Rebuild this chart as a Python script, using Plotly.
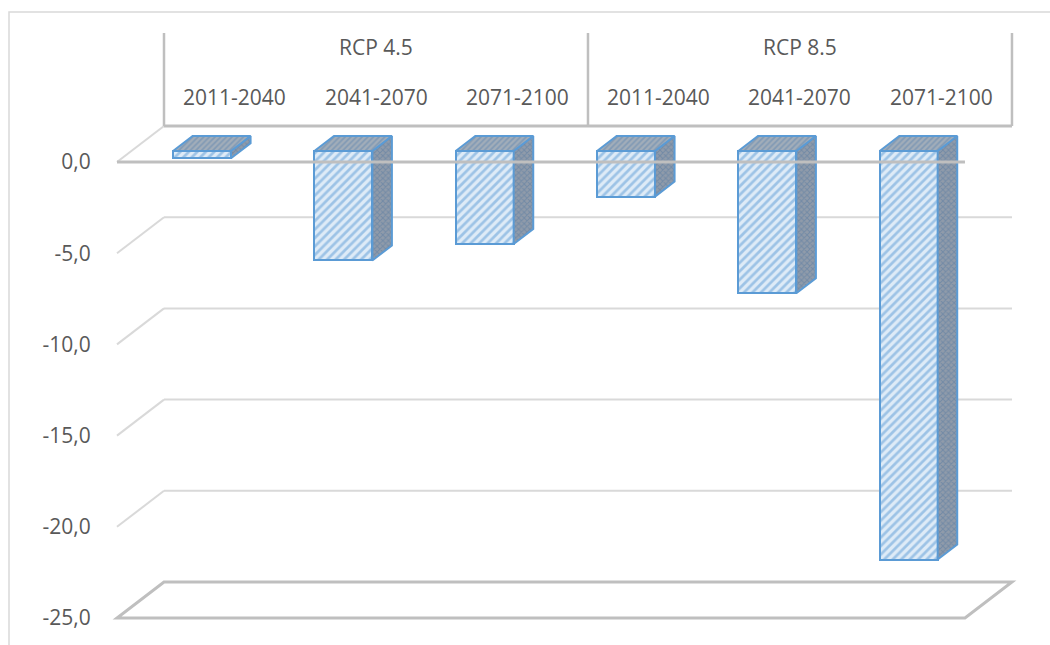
import plotly.graph_objects as go

# ---- data ----
scenarios = ["RCP 4.5", "RCP 8.5"]
periods = ["2011-2040", "2041-2070", "2071-2100"]
rcp45 = [-0.4, -6.0, -5.1]
rcp85 = [-2.5, -7.8, -22.4]
ytick_vals = [0, -5, -10, -15, -20, -25]
ytick_text = ["0,0", "-5,0", "-10,0", "-15,0", "-20,0", "-25,0"]

values = rcp45 + rcp85
n = len(values)

# ---- geometry (oblique 3D look) ----
PX_X = 141.33   # px per category slot
PX_Y = 18.24    # px per value unit
L, R, T, B = 100, 20, 20, 15
W, H = 1050, 645
PW, PH = W - L - R, H - T - B
X0PX, Y0PX = 117, 162          # pixel of (u=0, v=0) in front plane
DXu = 47 / PX_X                 # full depth offset in x units
DYv = 36 / PX_Y                 # full depth offset in y units
D0, D1 = 11 / 36, 26 / 36       # bar depth span
BAR_W = 0.41
ymin = min(ytick_vals)

xr = [-(X0PX - L) / PX_X, (PW - (X0PX - L)) / PX_X]
yr = [-(T + PH - Y0PX) / PX_Y, (Y0PX - T) / PX_Y]


def P(u, v, d):
    return (u + d * DXu, v + d * DYv)


def vpx(py):
    return (Y0PX - py) / PX_Y


BLUE = "#5b9bd5"
GRID = "#d9d9d9"
AXC = "#bfbfbf"
TXT = "#595959"
FONT = "Open Sans"
FS = 21

fig = go.Figure()

# front faces
centers = [i + 0.5 for i in range(n)]
fig.add_trace(go.Bar(
    x=[c + D0 * DXu for c in centers], y=values, base=D0 * DYv, width=BAR_W,
    marker=dict(color="#ddeaf7", line=dict(color=BLUE, width=2),
                pattern=dict(shape="/", fgcolor="#5b9bd5", bgcolor="#deebf7",
                             size=6, solidity=0.45)),
    hoverinfo="skip", showlegend=False))

# side and top faces
sx, sy, tx, ty = [], [], [], []
for c, v in zip(centers, values):
    xl, xrr = c - BAR_W / 2, c + BAR_W / 2
    for pt in [P(xrr, 0, D0), P(xrr, 0, D1), P(xrr, v, D1), P(xrr, v, D0), P(xrr, 0, D0)]:
        sx.append(pt[0]); sy.append(pt[1])
    sx.append(None); sy.append(None)
    for pt in [P(xl, 0, D0), P(xrr, 0, D0), P(xrr, 0, D1), P(xl, 0, D1), P(xl, 0, D0)]:
        tx.append(pt[0]); ty.append(pt[1])
    tx.append(None); ty.append(None)

fig.add_trace(go.Scatter(
    x=sx, y=sy, mode="lines", fill="toself", fillcolor="#8f9cab",
    fillpattern=dict(shape="x", fgcolor="#557aa2", bgcolor="#909baa", size=4, solidity=0.45),
    line=dict(color=BLUE, width=2), hoverinfo="skip", showlegend=False))
fig.add_trace(go.Scatter(
    x=tx, y=ty, mode="lines", fill="toself", fillcolor="#9aa7b5",
    fillpattern=dict(shape="/", fgcolor="#5f86b0", bgcolor="#a2adb9", size=4, solidity=0.45),
    line=dict(color=BLUE, width=2), hoverinfo="skip", showlegend=False))

shapes = []
# gridlines: side wall diagonal + back wall horizontal
for v in ytick_vals[:-1]:
    a, b = P(0, v, 0), P(0, v, 1)
    shapes.append(dict(type="line", x0=a[0], y0=a[1], x1=b[0], y1=b[1],
                       line=dict(color=GRID, width=2), layer="below"))
    if v != 0:
        c2 = P(n, v, 1)
        shapes.append(dict(type="line", x0=b[0], y0=b[1], x1=c2[0], y1=c2[1],
                           line=dict(color=GRID, width=2), layer="below"))
# floor at bottom
fl = [P(0, ymin, 0), P(n, ymin, 0), P(n, ymin, 1), P(0, ymin, 1)]
path = "M " + " L ".join(f"{p[0]},{p[1]}" for p in fl) + " Z"
shapes.append(dict(type="path", path=path, line=dict(color=AXC, width=3), layer="below"))

# header box (category axis at back wall top)
top_v = vpx(33)
hb0, hb1 = P(0, 0, 1), P(n, 0, 1)
shapes.append(dict(type="line", x0=hb0[0], y0=hb0[1], x1=hb1[0], y1=hb1[1],
                   line=dict(color=AXC, width=3), layer="below"))
for k in range(len(scenarios) + 1):
    p = P(k * len(periods), 0, 1)
    shapes.append(dict(type="line", x0=p[0], y0=p[1], x1=p[0], y1=top_v,
                       line=dict(color=AXC, width=2.5), layer="below"))

# front zero line (drawn over the bars)
f0, f1 = P(0, 0, 0), P(n, 0, 0)
shapes.append(dict(type="line", x0=f0[0], y0=f0[1], x1=f1[0], y1=f1[1],
                   line=dict(color=AXC, width=3), layer="above"))

# outer chart border
shapes.append(dict(type="rect", xref="paper", yref="paper",
                   x0=(9 - L) / PW, x1=(1060 - L) / PW,
                   y0=(T + PH - 660) / PH, y1=(T + PH - 12) / PH,
                   line=dict(color=GRID, width=1.5), layer="below"))

annotations = []
for k, s in enumerate(scenarios):
    p = P(k * len(periods) + len(periods) / 2, 0, 1)
    annotations.append(dict(x=p[0], y=vpx(47), text=s, showarrow=False,
                            font=dict(family=FONT, size=FS, color=TXT)))
for i in range(n):
    p = P(i + 0.5, 0, 1)
    annotations.append(dict(x=p[0], y=vpx(97), text=periods[i % len(periods)],
                            showarrow=False, font=dict(family=FONT, size=FS, color=TXT)))

fig.update_layout(
    width=W, height=H, margin=dict(l=L, r=R, t=T, b=B),
    paper_bgcolor="white", plot_bgcolor="white",
    xaxis=dict(range=xr, showgrid=False, zeroline=False, showline=False,
               showticklabels=False, ticks="", fixedrange=True),
    yaxis=dict(range=yr, showgrid=False, zeroline=False, showline=False,
               tickvals=ytick_vals, ticktext=ytick_text, ticks="outside",
               ticklen=4, tickcolor="rgba(0,0,0,0)",
               tickfont=dict(family=FONT, size=FS, color=TXT), fixedrange=True),
    shapes=shapes, annotations=annotations, bargap=0, showlegend=False,
)

fig.write_html("out.html", config={"displayModeBar": False},
               post_script="document.body.style.margin='0';document.body.style.overflow='hidden';")
